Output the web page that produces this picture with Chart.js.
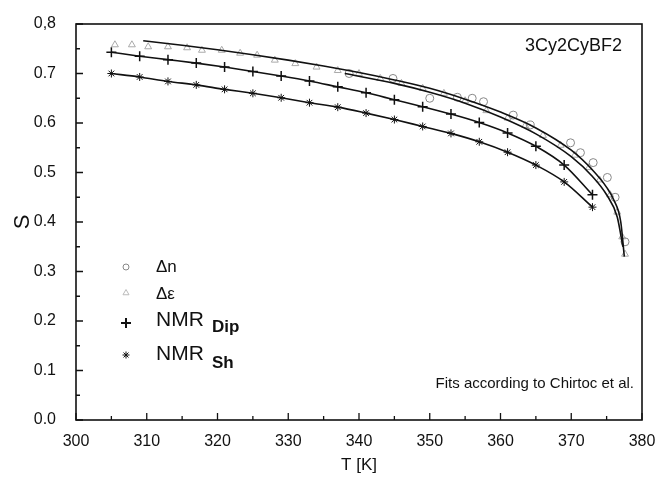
<!DOCTYPE html>
<html>
<head>
<meta charset="utf-8">
<script src="https://cdn.jsdelivr.net/npm/chart.js@4.4.1/dist/chart.umd.min.js"></script>
<style>
html,body{margin:0;padding:0;background:#fff;}
#wrap{width:666px;height:480px;position:relative;}
</style>
</head>
<body>
<div id="wrap"><canvas id="c" width="666" height="480"></canvas></div>
<script>
// ---- data ----
const xTicks = [300,310,320,330,340,350,360,370,380];
const yTickLabels = ['0.0','0.1','0.2','0.3','0.4','0.5','0.6','0.7','0,8'];

// Δn (circles)
const dnT = [338.6,344.8,350.0,353.9,356.0,357.6,361.8,364.2,369.9,371.3,373.1,375.1,376.2,377.6];
const dnS = [0.700,0.690,0.650,0.652,0.650,0.643,0.616,0.596,0.560,0.540,0.520,0.490,0.450,0.360];

// Δε (triangles)
const deT = [305.5,307.9,310.2,313.0,315.7,317.8,320.6,323.2,325.6,328.1,331,334,337,340,343,346,349,352,355,358,361,363.5,366,368.5,370.5,372.5,374,375.5,376.5,377.2,377.6];
const deS = [0.758,0.758,0.754,0.754,0.752,0.747,0.747,0.741,0.737,0.727,0.720,0.713,0.706,0.700,0.690,0.680,0.670,0.660,0.645,0.625,0.610,0.595,0.575,0.555,0.535,0.510,0.485,0.455,0.420,0.370,0.335];

// NMR markers
const nmrT = [305,309,313,317,321,325,329,333,337,341,345,349,353,357,361,365,369,373];
const dipS = [0.743,0.735,0.728,0.721,0.713,0.704,0.695,0.685,0.673,0.661,0.647,0.633,0.618,0.601,0.580,0.553,0.515,0.455];
const shS  = [0.700,0.693,0.684,0.677,0.668,0.660,0.651,0.641,0.632,0.620,0.607,0.593,0.579,0.562,0.541,0.515,0.481,0.430];

// Fit curves
const fitDeT = [309.5,315,320,325,330,335,340,345,350,355,360,365,370,373,375,376,377,377.5];
const fitDeS = [0.766,0.757,0.748,0.738,0.727,0.715,0.702,0.687,0.670,0.648,0.622,0.590,0.545,0.505,0.470,0.445,0.400,0.330];
const fitDnT = [338,345,350,355,360,365,370,373,375,376.5,377.3];
const fitDnS = [0.700,0.680,0.662,0.640,0.612,0.578,0.532,0.492,0.455,0.410,0.350];

const pts = (xs, ys) => xs.map((x,i)=>({x:x, y:ys[i]}));
const FONT = "'Liberation Sans', Arial, sans-serif";

const lineDs = (xs, ys) => ({
  data: pts(xs, ys), showLine: true, pointRadius: 0, borderColor: '#111',
  borderWidth: 1.6, cubicInterpolationMode: 'monotone', fill: false
});

const frame = {
  id: 'frame',
  afterDraw(chart) {
    const {ctx, chartArea: a, scales: {x, y}} = chart;
    ctx.save();
    ctx.strokeStyle = '#111';
    ctx.lineWidth = 1.6;
    ctx.strokeRect(a.left, a.top, a.right - a.left, a.bottom - a.top);
    ctx.lineWidth = 1.3;
    ctx.beginPath();
    for (let v = 300; v <= 380; v += 5) {
      const px = x.getPixelForValue(v);
      const len = (v % 10 === 0) ? 7 : 4;
      ctx.moveTo(px, a.bottom); ctx.lineTo(px, a.bottom - len);
    }
    for (let k = 0; k <= 16; k++) {
      const v = k * 0.05;
      const py = y.getPixelForValue(v);
      const len = (k % 2 === 0) ? 7 : 4;
      ctx.moveTo(a.left, py); ctx.lineTo(a.left + len, py);
    }
    ctx.stroke();

    // annotations
    ctx.fillStyle = '#111';
    ctx.textBaseline = 'middle';
    ctx.textAlign = 'right';
    ctx.font = '18px ' + FONT;
    ctx.fillText('3Cy2CyBF2', 622, 46);
    ctx.font = '15px ' + FONT;
    ctx.fillText('Fits according to Chirtoc et al.', 634, 384);

    // legend
    const H = Chart.helpers;
    const lx = 126, tx = 156;
    ctx.textAlign = 'left';
    ctx.strokeStyle = '#888'; ctx.fillStyle = 'rgba(0,0,0,0)'; ctx.lineWidth = 1;
    H.drawPoint(ctx, {pointStyle: 'circle', radius: 3, borderWidth: 1}, lx, 267);
    ctx.strokeStyle = '#bbb';
    H.drawPoint(ctx, {pointStyle: 'triangle', radius: 3.5, borderWidth: 1}, lx, 293);
    ctx.strokeStyle = '#111'; ctx.lineWidth = 2;
    H.drawPoint(ctx, {pointStyle: 'cross', radius: 5, borderWidth: 2}, lx, 323);
    ctx.lineWidth = 1;
    H.drawPoint(ctx, {pointStyle: 'star', radius: 3.5, borderWidth: 1}, lx, 355);

    ctx.fillStyle = '#111';
    ctx.font = '17px ' + FONT;
    ctx.fillText('\u0394n', tx, 267);
    ctx.fillText('\u0394\u03b5', tx, 294);
    ctx.font = '21px ' + FONT;
    ctx.fillText('NMR', tx, 320);
    ctx.fillText('NMR', tx, 354);
    ctx.font = 'bold 17px ' + FONT;
    ctx.fillText('Dip', 212, 327);
    ctx.fillText('Sh', 212, 363);
    ctx.restore();
  }
};

new Chart(document.getElementById('c'), {
  type: 'scatter',
  data: {
    datasets: [
      lineDs(fitDeT, fitDeS),
      lineDs(fitDnT, fitDnS),
      lineDs(nmrT, dipS),
      lineDs(nmrT, shS),
      { label: '\u0394n', data: pts(dnT, dnS), pointStyle: 'circle', pointRadius: 4,
        borderColor: '#888', backgroundColor: 'rgba(0,0,0,0)', borderWidth: 1, showLine: false },
      { label: '\u0394\u03b5', data: pts(deT, deS), pointStyle: 'triangle', pointRadius: 4,
        borderColor: '#aaa', backgroundColor: 'rgba(0,0,0,0)', borderWidth: 1, showLine: false },
      { label: 'NMR Dip', data: pts(nmrT, dipS), pointStyle: 'cross', pointRadius: 5,
        borderColor: '#111', borderWidth: 1.5, showLine: false },
      { label: 'NMR Sh', data: pts(nmrT, shS), pointStyle: 'star', pointRadius: 4,
        borderColor: '#111', borderWidth: 1, showLine: false }
    ]
  },
  options: {
    responsive: false,
    animation: false,
    layout: { padding: { top: 24, right: 24, left: 6, bottom: 0 } },
    plugins: { legend: { display: false }, tooltip: { enabled: false } },
    scales: {
      x: {
        type: 'linear', min: 300, max: 380,
        afterBuildTicks: s => { s.ticks = xTicks.map(v => ({value: v})); },
        afterFit: s => { s.height = 60; },
        grid: { display: false },
        border: { display: false },
        ticks: { color: '#111', font: { size: 16, family: FONT }, padding: 4, maxRotation: 0 },
        title: { display: true, text: 'T [K]', color: '#111', font: { size: 17, family: FONT }, padding: { top: 0 } }
      },
      y: {
        type: 'linear', min: 0, max: 0.8,
        afterBuildTicks: s => { s.ticks = yTickLabels.map((t, i) => ({value: i / 10})); },
        afterFit: s => { s.width = 70; },
        grid: { display: false },
        border: { display: false },
        ticks: { color: '#111', font: { size: 16, family: FONT }, padding: 12,
                 callback: (v, i) => yTickLabels[i] },
        title: { display: true, text: 'S', color: '#111', font: { size: 22, family: FONT }, padding: { bottom: 0 } }
      }
    }
  },
  plugins: [frame]
});
</script>
</body>
</html>
